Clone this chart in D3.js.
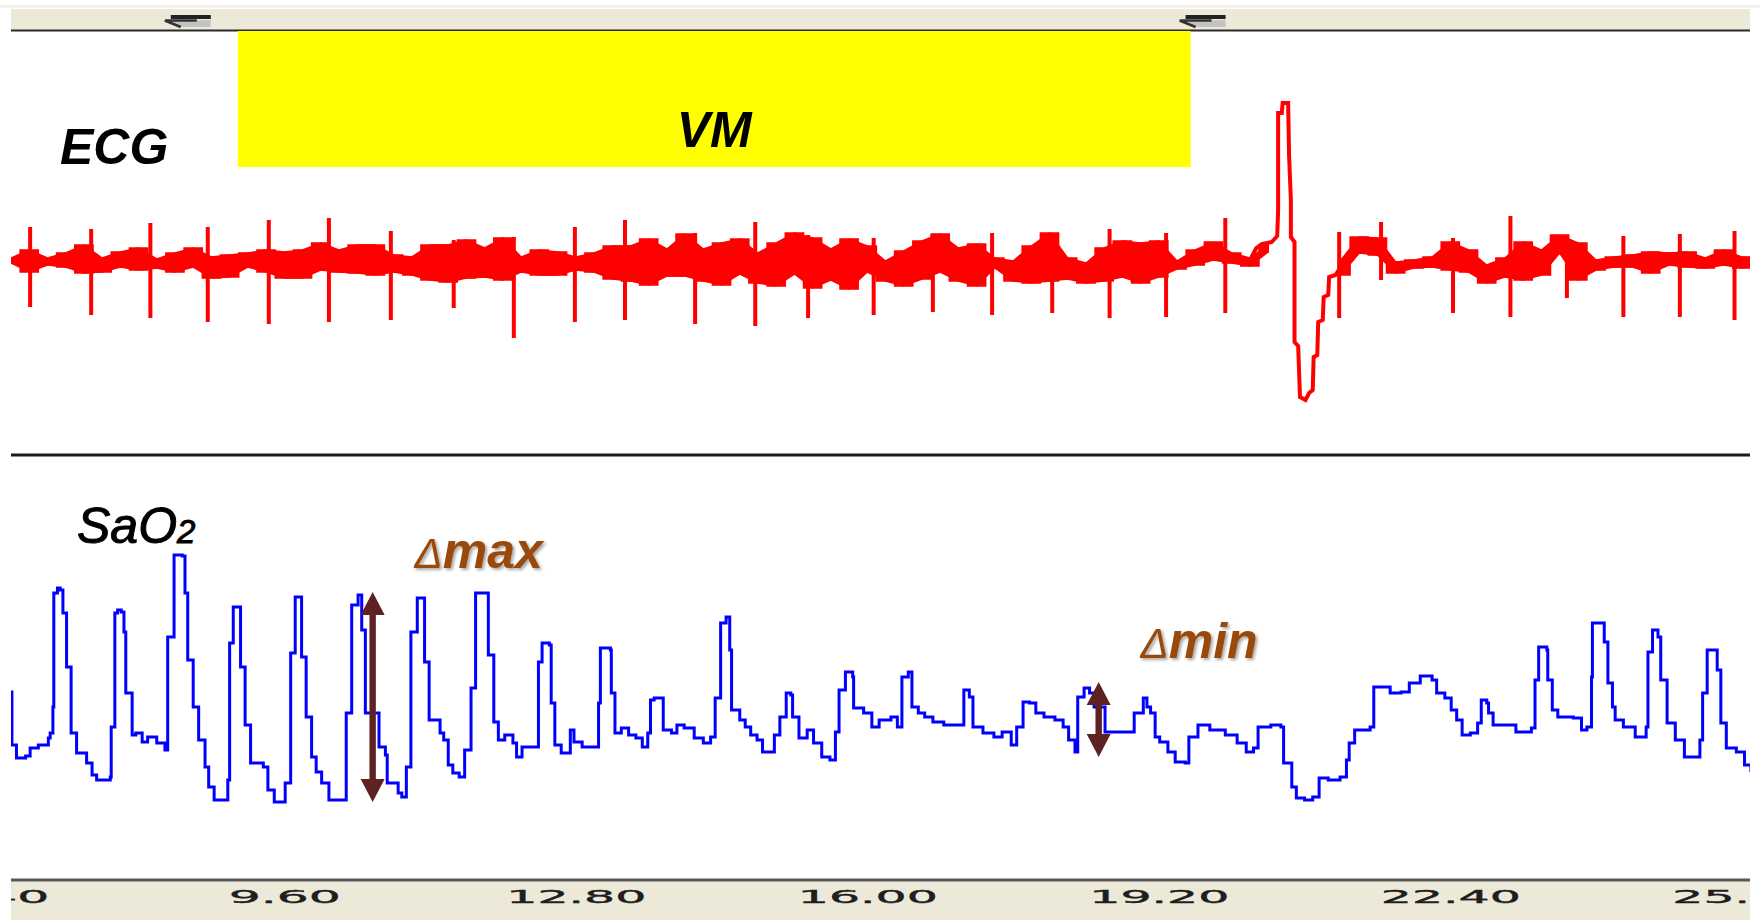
<!DOCTYPE html>
<html>
<head>
<meta charset="utf-8">
<script src="https://cdn.jsdelivr.net/npm/d3@7/dist/d3.min.js"></script>
<style>
  html, body { margin: 0; padding: 0; background: #fff; }
  svg { display: block; }
</style>
</head>
<body>
<div id="chart"></div>
<script>
// time axis (s)
const tickValues = [6.4, 9.6, 12.8, 16.0, 19.2, 22.4, 25.6];
const vmPeriod = [9.09, 19.55];        // Valsalva manoeuvre, yellow box
const cursorTimes = [8.53, 19.67];     // the two cursor marks in the top bar

// ECG noise band, one sample every 0.2 s from 6.6 s (mV), null = PVC drawn apart
const ecgBandStart = 6.6;
const ecgBandDt = 0.2;
const ecgBandHigh = [
  0.04, 0.12, 0.04, 0.09, 0.17, 0.04, 0.10, 0.14, 0.03, 0.09,
  0.14, 0.05, 0.07, 0.09, 0.12, 0.10, 0.12, 0.19, 0.12, 0.17,
  0.17, 0.07, 0.05, 0.17, 0.17, 0.22, 0.14, 0.24, 0.05, 0.12,
  0.10, 0.05, 0.09, 0.16, 0.16, 0.23, 0.13, 0.28, 0.13, 0.19,
  0.23, 0.09, 0.19, 0.29, 0.24, 0.13, 0.23, 0.16, 0.01, 0.11,
  0.21, 0.28, 0.14, 0.18, 0.04, 0.01, 0.16, 0.29, 0.04, -0.01,
  0.14, 0.21, 0.19, 0.21, 0.01, 0.12, 0.20, 0.09, 0.04, 0.17,
  null, null, null, 0.02, 0.25, 0.24, 0.00, 0.02, 0.05, 0.20,
  0.12, -0.03, 0.04, 0.20, 0.12, 0.27, 0.19, 0.02, 0.05, 0.07,
  0.10, 0.09, 0.10, 0.04, 0.12, 0.05, 0.04
];
const ecgBandLow = [
  -0.01, -0.10, -0.03, -0.05, -0.11, -0.10, -0.05, -0.08, -0.06, -0.10,
  -0.05, -0.16, -0.15, -0.05, -0.10, -0.16, -0.16, -0.08, -0.10, -0.11,
  -0.13, -0.10, -0.13, -0.18, -0.20, -0.16, -0.15, -0.18, -0.10, -0.13,
  -0.13, -0.08, -0.10, -0.17, -0.19, -0.23, -0.14, -0.14, -0.19, -0.23,
  -0.12, -0.21, -0.24, -0.12, -0.26, -0.18, -0.27, -0.10, -0.19, -0.24,
  -0.17, -0.10, -0.19, -0.24, -0.06, -0.19, -0.21, -0.19, -0.17, -0.21,
  -0.19, -0.15, -0.21, -0.15, -0.07, -0.03, 0.02, -0.01, -0.04, 0.10,
  null, null, null, -0.13, 0.09, 0.07, -0.11, -0.06, -0.05, -0.08,
  -0.10, -0.21, -0.15, -0.18, -0.13, 0.09, -0.18, -0.08, -0.05, -0.05,
  -0.11, -0.03, -0.05, -0.06, -0.03, -0.06, -0.04
];

// QRS complexes: time, R peak, S trough (mV)
const qrsTimes = [6.81, 7.48, 8.13, 8.76, 9.43, 10.09, 10.77, 11.46, 12.12, 12.79,
  13.34, 14.11, 14.77, 15.35, 16.07, 16.72, 17.37, 18.03, 18.66, 19.28,
  19.93, 21.18, 21.64, 22.43, 23.06, 23.68, 24.30, 24.92, 25.52];
const qrsR = [0.35, 0.33, 0.39, 0.35, 0.42, 0.44, 0.31, 0.22, 0.25, 0.35,
  0.42, 0.29, 0.40, 0.27, 0.24, 0.24, 0.29, 0.27, 0.33, 0.29,
  0.44, 0.30, 0.40, 0.24, 0.46, 0.27, 0.26, 0.28, 0.31];
const qrsS = [-0.45, -0.53, -0.56, -0.60, -0.62, -0.60, -0.58, -0.46, -0.76, -0.60,
  -0.58, -0.62, -0.64, -0.56, -0.53, -0.50, -0.53, -0.51, -0.56, -0.55,
  -0.51, -0.56, -0.18, -0.51, -0.55, -0.36, -0.55, -0.55, -0.58];

// premature ventricular beat after the manoeuvre
const pvcTimes = [20.19, 20.27, 20.33, 20.44, 20.50, 20.51, 20.51, 20.55, 20.56, 20.62,
  20.63, 20.65, 20.65, 20.69, 20.69, 20.73, 20.75, 20.81, 20.85, 20.89,
  20.90, 20.94, 20.95, 21.00, 21.01, 21.06, 21.07, 21.14, 21.19, 21.28];
const pvcValues = [0.00, 0.14, 0.18, 0.20, 0.26, 0.52, 1.49, 1.49, 1.59, 1.59,
  1.07, 0.62, 0.25, 0.20, -0.80, -0.84, -1.35, -1.38, -1.31, -1.28,
  -0.95, -0.93, -0.60, -0.58, -0.35, -0.33, -0.15, -0.13, -0.06, 0.00];

// SaO2 pleth trace (arbitrary units)
const sao2Times = [
  6.60, 6.61, 6.66, 6.76, 6.81, 6.90, 7.01, 7.03, 7.06, 7.07,
  7.11, 7.14, 7.17, 7.21, 7.26, 7.32, 7.43, 7.49, 7.54, 7.69,
  7.70, 7.74, 7.77, 7.81, 7.84, 7.86, 7.93, 7.97, 8.04, 8.10,
  8.20, 8.29, 8.32, 8.39, 8.48, 8.51, 8.54, 8.60, 8.66, 8.73,
  8.77, 8.83, 8.96, 8.98, 9.00, 9.04, 9.12, 9.12, 9.17, 9.23,
  9.37, 9.42, 9.49, 9.59, 9.61, 9.67, 9.72, 9.77, 9.79, 9.84,
  9.90, 9.95, 10.01, 10.09, 10.26, 10.28, 10.34, 10.41, 10.45, 10.49,
  10.64, 10.71, 10.73, 10.85, 10.89, 10.94, 10.99, 11.06, 11.14, 11.14,
  11.19, 11.24, 11.31, 11.35, 11.40, 11.45, 11.52, 11.58, 11.65, 11.70,
  11.81, 11.84, 11.90, 11.95, 12.02, 12.11, 12.15, 12.21, 12.36, 12.39,
  12.43, 12.51, 12.53, 12.57, 12.64, 12.69, 12.74, 12.78, 12.87, 13.03,
  13.05, 13.07, 13.18, 13.19, 13.23, 13.30, 13.38, 13.46, 13.53, 13.59,
  13.62, 13.66, 13.74, 13.76, 13.85, 13.91, 13.99, 14.10, 14.20, 14.28,
  14.33, 14.39, 14.45, 14.49, 14.51, 14.60, 14.66, 14.72, 14.79, 14.85,
  14.91, 14.98, 15.04, 15.11, 15.16, 15.18, 15.25, 15.34, 15.41, 15.50,
  15.59, 15.65, 15.69, 15.76, 15.84, 15.85, 15.96, 16.05, 16.13, 16.26,
  16.33, 16.38, 16.45, 16.49, 16.56, 16.63, 16.72, 16.84, 17.02, 17.06,
  17.12, 17.16, 17.27, 17.39, 17.48, 17.58, 17.64, 17.71, 17.78, 17.85,
  17.94, 18.06, 18.15, 18.21, 18.28, 18.31, 18.38, 18.44, 18.49, 18.61,
  18.86, 18.93, 19.03, 19.07, 19.11, 19.16, 19.21, 19.30, 19.38, 19.49,
  19.53, 19.63, 19.76, 19.93, 20.06, 20.16, 20.24, 20.29, 20.43, 20.54,
  20.57, 20.66, 20.71, 20.80, 20.89, 20.96, 21.06, 21.19, 21.26, 21.29,
  21.35, 21.52, 21.56, 21.65, 21.74, 21.86, 21.95, 22.07, 22.20, 22.25,
  22.34, 22.41, 22.47, 22.53, 22.62, 22.70, 22.74, 22.80, 22.82, 22.87,
  23.12, 23.29, 23.33, 23.37, 23.46, 23.47, 23.52, 23.58, 23.75, 23.84,
  23.90, 23.95, 23.96, 24.07, 24.09, 24.13, 24.18, 24.21, 24.30, 24.43,
  24.55, 24.57, 24.62, 24.68, 24.71, 24.78, 24.87, 24.97, 25.08, 25.14,
  25.17, 25.22, 25.31, 25.33, 25.37, 25.43, 25.54, 25.63, 25.70
];
const sao2Values = [
  1.28, 0.75, 0.62, 0.64, 0.72, 0.75, 0.82, 0.87, 1.13, 2.27,
  2.32, 2.30, 2.07, 1.53, 0.87, 0.67, 0.57, 0.45, 0.40, 0.43,
  0.93, 2.07, 2.10, 2.08, 1.88, 1.27, 0.85, 0.87, 0.78, 0.83,
  0.77, 0.70, 1.83, 2.65, 2.64, 2.27, 1.60, 1.13, 0.80, 0.53,
  0.33, 0.20, 0.20, 0.40, 1.77, 2.13, 2.13, 1.53, 0.95, 0.57,
  0.53, 0.30, 0.18, 0.18, 0.37, 1.67, 2.23, 2.23, 1.63, 1.03,
  0.63, 0.48, 0.37, 0.20, 0.20, 1.07, 2.15, 2.25, 1.90, 1.07,
  0.73, 0.65, 0.37, 0.27, 0.23, 0.53, 1.88, 2.22, 2.20, 1.58,
  1.00, 1.00, 0.87, 0.80, 0.55, 0.47, 0.43, 0.70, 1.32, 2.27,
  2.27, 1.65, 0.98, 0.80, 0.85, 0.77, 0.63, 0.73, 0.73, 1.58,
  1.77, 1.75, 1.17, 0.75, 0.67, 0.67, 0.90, 0.78, 0.73, 0.73,
  1.17, 1.72, 1.70, 1.27, 0.87, 0.92, 0.85, 0.82, 0.73, 0.87,
  1.20, 1.22, 1.22, 0.90, 0.87, 0.95, 0.92, 0.82, 0.77, 0.83,
  1.22, 1.97, 2.03, 1.70, 1.10, 1.00, 0.93, 0.85, 0.80, 0.68,
  0.68, 0.85, 1.03, 1.27, 1.25, 1.03, 0.82, 0.90, 0.77, 0.63,
  0.60, 0.88, 1.30, 1.48, 1.43, 1.12, 1.07, 0.93, 1.00, 1.03,
  0.93, 1.43, 1.48, 1.13, 1.07, 1.03, 0.98, 0.95, 0.95, 1.30,
  1.23, 0.93, 0.87, 0.83, 0.88, 0.75, 0.93, 1.18, 1.17, 1.07,
  1.03, 1.00, 0.93, 0.80, 0.68, 1.23, 1.32, 1.27, 1.13, 0.88,
  0.88, 1.07, 1.22, 1.13, 1.07, 0.83, 0.78, 0.68, 0.58, 0.57,
  0.83, 0.95, 0.90, 0.85, 0.77, 0.68, 0.72, 0.93, 0.95, 0.93,
  0.57, 0.33, 0.22, 0.20, 0.23, 0.42, 0.40, 0.43, 0.60, 0.77,
  0.90, 0.93, 1.33, 1.33, 1.27, 1.28, 1.37, 1.44, 1.40, 1.27,
  1.22, 1.10, 1.00, 0.85, 0.87, 0.97, 1.20, 1.17, 1.07, 0.95,
  0.88, 0.92, 1.40, 1.73, 1.70, 1.40, 1.10, 1.03, 1.02, 0.90,
  0.93, 1.43, 1.97, 1.97, 1.78, 1.37, 1.13, 1.00, 0.93, 0.83,
  0.93, 1.68, 1.90, 1.83, 1.40, 0.97, 0.80, 0.63, 0.63, 0.80,
  1.27, 1.70, 1.70, 1.50, 0.97, 0.72, 0.68, 0.55, 0.48
];

// pulse amplitude annotations
const deltaNames = ['max', 'min'];
const deltaArrowTimes = [10.57, 18.54];
const deltaArrowTops = [2.28, 1.38];
const deltaArrowBottoms = [0.18, 0.63];
const deltaLabelTimes = [11.03, 19.00];
const deltaLabelValues = [2.52, 1.62];

const width = 1760;
const height = 920;
const plotLeft = 11;
const plotRight = 1750;

const svg = d3.select('#chart').append('svg')
    .attr('width', width)
    .attr('height', height)
    .attr('viewBox', `0 0 ${width} ${height}`);

const xScale = d3.scaleLinear().domain([6.6, 25.69]).range([plotLeft, plotRight]);
const yEcg = d3.scaleLinear().domain([-1.4, 1.6]).range([402, 102]);
const ySao2 = d3.scaleLinear().domain([0, 3]).range([820, 520]);

const defs = svg.append('defs');
defs.append('clipPath').attr('id', 'plot-clip')
    .append('rect')
    .attr('x', plotLeft).attr('y', 0)
    .attr('width', plotRight - plotLeft).attr('height', height);

const shadow = defs.append('filter').attr('id', 'txt-shadow')
    .attr('x', '-10%').attr('y', '-20%').attr('width', '130%').attr('height', '150%');
shadow.append('feDropShadow')
    .attr('dx', 2).attr('dy', 2).attr('stdDeviation', 1.6)
    .attr('flood-color', '#000').attr('flood-opacity', 0.35);

// top bar with cursor marks
svg.append('rect')
    .attr('x', 0).attr('y', 5).attr('width', width).attr('height', 3)
    .attr('fill', '#F1EFE7');
svg.append('rect')
    .attr('x', plotLeft).attr('y', 9).attr('width', plotRight - plotLeft).attr('height', 21)
    .attr('fill', '#ECE9D8');

const cursors = svg.append('g').selectAll('g')
    .data(cursorTimes)
    .join('g')
    .attr('transform', (d) => `translate(${xScale(d)},0)`);
cursors.append('path')
    .attr('d', 'M-20,21 L-4,27 L24,27 L24,20 Z')
    .attr('fill', '#C4C4C4');
cursors.append('path')
    .attr('d', 'M-16,17 L24,17')
    .attr('stroke', '#222').attr('stroke-width', 4);
cursors.append('path')
    .attr('d', 'M-22,20.5 L10,20.5 M-22,20.5 L-6,27')
    .attr('stroke', '#333').attr('stroke-width', 2.5).attr('fill', 'none');

svg.append('line')
    .attr('x1', plotLeft).attr('x2', plotRight)
    .attr('y1', 30.5).attr('y2', 30.5)
    .attr('stroke', '#2A2A2A').attr('stroke-width', 2);

// VM box
svg.append('rect')
    .attr('x', xScale(vmPeriod[0]))
    .attr('y', 31)
    .attr('width', xScale(vmPeriod[1]) - xScale(vmPeriod[0]))
    .attr('height', 136)
    .attr('fill', '#FFFF00');

const labelFont = '"Liberation Sans", Arial, sans-serif';

svg.append('text')
    .attr('x', (xScale(vmPeriod[0]) + xScale(vmPeriod[1])) / 2)
    .attr('y', 147)
    .attr('text-anchor', 'middle')
    .attr('font-family', labelFont)
    .attr('font-size', 50)
    .attr('font-weight', 'bold')
    .attr('font-style', 'italic')
    .attr('fill', '#000')
    .text('VM');

svg.append('text')
    .attr('x', 60).attr('y', 164)
    .attr('font-family', labelFont)
    .attr('font-size', 50)
    .attr('font-weight', 'bold')
    .attr('font-style', 'italic')
    .attr('fill', '#000')
    .text('ECG');

// ECG trace
const ecgLayer = svg.append('g').attr('clip-path', 'url(#plot-clip)');

const bandData = ecgBandHigh.map((hi, i) => ({
    t: ecgBandStart + i * ecgBandDt,
    hi: hi,
    lo: ecgBandLow[i],
}));

// the recorder draws min/max per pixel column: a smooth ribbon plus stair edges
[d3.curveLinear, d3.curveStep].forEach((curve) => {
    const bandArea = d3.area()
        .defined((d) => d.hi !== null)
        .x((d) => xScale(d.t))
        .y0((d) => yEcg(d.lo))
        .y1((d) => yEcg(d.hi))
        .curve(curve);
    ecgLayer.append('path')
        .datum(bandData)
        .attr('d', bandArea)
        .attr('fill', '#FF0000')
        .attr('stroke', '#FF0000')
        .attr('stroke-width', 1.5)
        .attr('stroke-linejoin', 'miter');
});

ecgLayer.append('g').selectAll('line')
    .data(qrsTimes)
    .join('line')
    .attr('x1', (d) => xScale(d))
    .attr('x2', (d) => xScale(d))
    .attr('y1', (d, i) => yEcg(qrsR[i]))
    .attr('y2', (d, i) => yEcg(qrsS[i]))
    .attr('stroke', '#FF0000')
    .attr('stroke-width', 4);

const pvcLine = d3.line()
    .x((d) => xScale(d[0]))
    .y((d) => yEcg(d[1]));

ecgLayer.append('path')
    .datum(pvcTimes.map((t, i) => [t, pvcValues[i]]))
    .attr('d', pvcLine)
    .attr('fill', 'none')
    .attr('stroke', '#FF0000')
    .attr('stroke-width', 4)
    .attr('stroke-linejoin', 'miter');

// separator between the two channels
svg.append('line')
    .attr('x1', plotLeft).attr('x2', plotRight)
    .attr('y1', 455).attr('y2', 455)
    .attr('stroke', '#1A1A1A').attr('stroke-width', 3);

// SaO2 label
const sao2Label = svg.append('text')
    .attr('x', 77).attr('y', 543)
    .attr('font-family', labelFont)
    .attr('font-size', 50)
    .attr('font-style', 'italic')
    .attr('fill', '#000')
    .attr('stroke', '#000')
    .attr('stroke-width', 1);
sao2Label.append('tspan').text('SaO');
sao2Label.append('tspan').attr('font-size', 33).text('2');

// SaO2 trace
const sao2Line = d3.line()
    .x((d) => xScale(d[0]))
    .y((d) => ySao2(d[1]))
    .curve(d3.curveStepAfter);

svg.append('g').attr('clip-path', 'url(#plot-clip)')
    .append('path')
    .datum(sao2Times.map((t, i) => [t, sao2Values[i]]))
    .attr('d', sao2Line)
    .attr('fill', 'none')
    .attr('stroke', '#0000FF')
    .attr('stroke-width', 3);

// double arrows for pulse amplitude
const headW = 12, headH = 23, shaftW = 3.2;
svg.append('g').selectAll('path')
    .data(deltaArrowTimes)
    .join('path')
    .attr('d', (d, i) => {
        const x = xScale(d);
        const y0 = ySao2(deltaArrowTops[i]);
        const y1 = ySao2(deltaArrowBottoms[i]);
        return `M${x},${y0} L${x + headW},${y0 + headH} L${x + shaftW},${y0 + headH}`
            + ` L${x + shaftW},${y1 - headH} L${x + headW},${y1 - headH} L${x},${y1}`
            + ` L${x - headW},${y1 - headH} L${x - shaftW},${y1 - headH}`
            + ` L${x - shaftW},${y0 + headH} L${x - headW},${y0 + headH} Z`;
    })
    .attr('fill', '#5E2222');

const deltaText = svg.append('g').selectAll('text')
    .data(deltaNames)
    .join('text')
    .attr('x', (d, i) => xScale(deltaLabelTimes[i]))
    .attr('y', (d, i) => ySao2(deltaLabelValues[i]))
    .attr('font-family', labelFont)
    .attr('font-size', 50)
    .attr('font-weight', 'bold')
    .attr('font-style', 'italic')
    .attr('fill', '#9A4A08')
    .attr('filter', 'url(#txt-shadow)');
deltaText.append('tspan').attr('font-weight', 'normal').attr('font-size', 42).text('\u0394');
deltaText.append('tspan').text((d) => d);

// bottom time axis
svg.append('rect')
    .attr('x', plotLeft).attr('y', 881)
    .attr('width', plotRight - plotLeft).attr('height', height - 881)
    .attr('fill', '#ECE9D8');
svg.append('line')
    .attr('x1', plotLeft).attr('x2', plotRight)
    .attr('y1', 880).attr('y2', 880)
    .attr('stroke', '#585858').attr('stroke-width', 3);

const axis = svg.append('g')
    .attr('transform', 'translate(0,880)')
    .attr('clip-path', 'url(#plot-clip)')
    .call(d3.axisBottom(xScale)
        .tickValues(tickValues)
        .tickFormat(d3.format('.2f'))
        .tickSize(0));
axis.select('.domain').remove();
axis.selectAll('text')
    .attr('y', 23)
    .attr('dy', 0)
    .attr('font-family', '"DejaVu Sans", Verdana, sans-serif')
    .attr('font-size', 18)
    .attr('fill', '#1E1E1E')
    .attr('stroke', '#1E1E1E')
    .attr('stroke-width', 0.4)
    .attr('textLength', function () { return this.textContent.length * 28; })
    .attr('lengthAdjust', 'spacingAndGlyphs');
</script>
</body>
</html>
